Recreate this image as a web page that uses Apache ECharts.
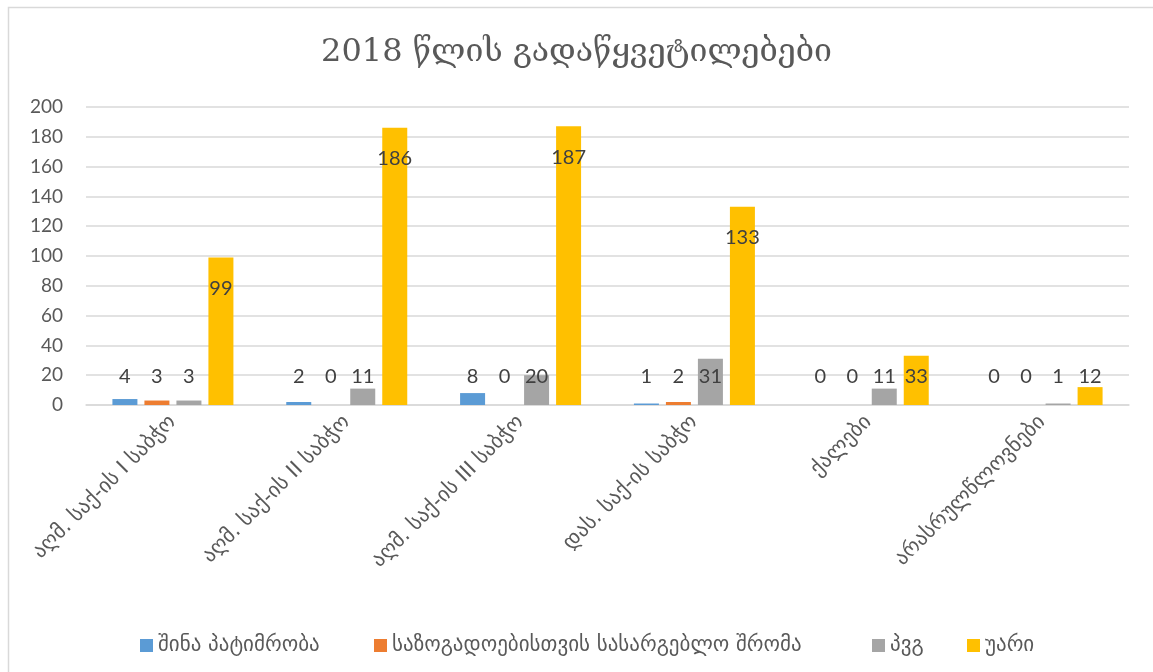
<!DOCTYPE html>
<html>
<head>
<meta charset="utf-8">
<script src="https://cdn.jsdelivr.net/npm/echarts@6/dist/echarts.min.js"></script>
<style>html,body{margin:0;padding:0;background:#fff;}#c{width:1153px;height:672px;}</style>
</head>
<body>
<div id="c"></div>
<script>
const titleText = '2018 წლის გადაწყვეტილებები';
const categories = ['აღმ. საქ-ის I საბჭო', 'აღმ. საქ-ის II საბჭო', 'აღმ. საქ-ის III საბჭო', 'დას. საქ-ის საბჭო', 'ქალები', 'არასრულწლოვნები'];
const seriesNames = ['შინა პატიმრობა', 'საზოგადოებისთვის სასარგებლო შრომა', 'პვგ', 'უარი'];
const houseArrest = [4, 2, 8, 1, 0, 0];
const communityService = [3, 0, 0, 2, 0, 0];
const parole = [3, 11, 20, 31, 11, 1];
const refusal = [99, 186, 187, 133, 33, 12];
const yTicks = [0, 20, 40, 60, 80, 100, 120, 140, 160, 180, 200];

const colors = ['#5B9BD5', '#ED7D31', '#A5A5A5', '#FFC000'];
const valueSets = [houseArrest, communityService, parole, refusal];
const legendLeft = [135, 369, 867, 962];
const geo = "'DejaVu Sans', sans-serif";
const num = "Lato, 'DejaVu Sans', sans-serif";

function makeData(arr) {
  return arr.map(v => ({
    value: v,
    label: v >= 40
      ? { position: 'insideTop', distance: 21 }
      : { position: 'insideBottom', distance: 18 }
  }));
}

const chart = echarts.init(document.getElementById('c'));
chart.setOption({
  backgroundColor: '#fff',
  animation: false,
  title: {
    text: titleText, left: 'center', top: 32,
    textStyle: { fontFamily: "'DejaVu Serif', serif", fontSize: 32, fontWeight: 'normal', color: '#595959' }
  },
  graphic: [{
    type: 'rect', left: 6, top: 5, silent: true,
    shape: { width: 1200, height: 720 },
    style: { fill: 'none', stroke: '#D9D9D9', lineWidth: 1.5 }
  }],
  legend: seriesNames.map((n, i) => ({
    data: [n], left: legendLeft[i], top: 630, itemWidth: 13, itemHeight: 13, itemGap: 5,
    icon: 'rect',
    textStyle: { fontFamily: geo, fontSize: 21, color: '#595959' }
  })),
  grid: { left: 86, right: 24, top: 107, bottom: 267, containLabel: false },
  xAxis: {
    type: 'category', data: categories,
    axisLine: { lineStyle: { color: '#D9D9D9', width: 1.5 } },
    axisTick: { show: false },
    axisLabel: { rotate: 45, margin: 14, interval: 0, fontFamily: geo, fontSize: 21, color: '#595959' }
  },
  yAxis: {
    type: 'value', min: yTicks[0], max: yTicks[yTicks.length - 1], interval: yTicks[1] - yTicks[0],
    axisLine: { show: false }, axisTick: { show: false },
    splitLine: { lineStyle: { color: '#D9D9D9', width: 1.5 } },
    axisLabel: { margin: 23, fontFamily: num, fontSize: 19, color: '#595959' }
  },
  series: seriesNames.map((n, i) => ({
    name: n, type: 'bar', data: makeData(valueSets[i]),
    barWidth: 25, barGap: '28%',
    itemStyle: { color: colors[i] },
    label: { show: true, fontFamily: num, fontSize: 20, color: '#404040' }
  }))
});
</script>
</body>
</html>
